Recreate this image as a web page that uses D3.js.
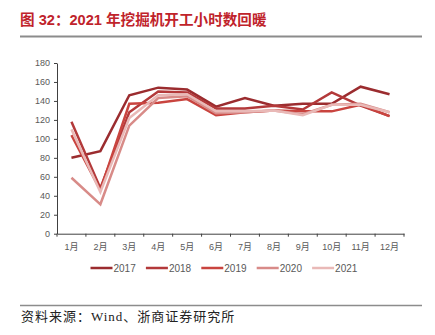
<!DOCTYPE html>
<html>
<head>
<meta charset="utf-8">
<script src="https://cdn.jsdelivr.net/npm/d3@7"></script>
<style>
  html, body { margin: 0; padding: 0; background: #ffffff; }
  svg { display: block; }
</style>
</head>
<body>
<svg id="chart" width="435" height="335"></svg>
<script>
// Excavator operating hours per month, 2017–2021
const months = ["1月","2月","3月","4月","5月","6月","7月","8月","9月","10月","11月","12月"];
const seriesNames = ["2017","2018","2019","2020","2021"];
const hours2017 = [80, 87, 146, 154, 152, 134, 143, 135, 137, 137, 155, 147];
const hours2018 = [118, 48, 128, 150, 149, 132, 132, 135, 131, 149, 135, 124];
const hours2019 = [104, 46, 137, 138, 142, 125, 128, 130, 129, 129, 136, 124];
const hours2020 = [59, 31, 114, 143, 145, 127, 128, 130, 126, 136, 137, 128];
const hours2021 = [110, 44, 122, 146, 147, 129, 129, 130, 125, 136, 136, 128];
const yTicks = [0, 20, 40, 60, 80, 100, 120, 140, 160, 180];

const seriesValues = [hours2017, hours2018, hours2019, hours2020, hours2021];
const colors = ["#9b2c2f", "#b3393a", "#c9443f", "#d88b88", "#e9b9b7"];

const svg = d3.select("#chart");
const font = "'Liberation Sans', Arial, 'Noto Sans CJK SC', sans-serif";

// Title and rules
svg.append("text")
  .attr("x", 20).attr("y", 25)
  .attr("font-family", "'Liberation Sans', Arial, 'Noto Sans CJK SC', sans-serif")
  .attr("font-size", 14.6).attr("font-weight", "bold")
  .attr("fill", "#c0232b")
  .text("图 32：2021 年挖掘机开工小时数回暖");
svg.append("line")
  .attr("x1", 20).attr("x2", 422).attr("y1", 36.5).attr("y2", 36.5)
  .attr("stroke", "#8c8c8c").attr("stroke-width", 2);
svg.append("line")
  .attr("x1", 20).attr("x2", 422).attr("y1", 305.5).attr("y2", 305.5)
  .attr("stroke", "#8c8c8c").attr("stroke-width", 1.5);
svg.append("text")
  .attr("x", 21).attr("y", 321)
  .attr("font-family", "'Liberation Serif', 'Times New Roman', 'Noto Sans CJK SC', serif")
  .attr("font-size", 13).attr("letter-spacing", 1).attr("fill", "#222")
  .text("资料来源：Wind、浙商证券研究所");

// Scales
const x = d3.scaleBand().domain(months).range([57, 404]);
const y = d3.scaleLinear().domain([0, 180]).range([233.7, 63]);
const cx = m => x(m) + x.bandwidth() / 2;

// Y axis
const yAxis = svg.append("g")
  .attr("transform", "translate(57,0)")
  .call(d3.axisLeft(y).tickValues(yTicks).tickSize(3).tickSizeOuter(0).tickPadding(4));
yAxis.select(".domain").attr("stroke", "#404040");
yAxis.selectAll(".tick line").attr("stroke", "#404040");
yAxis.selectAll("text").attr("font-family", font).attr("font-size", 9).attr("fill", "#595959");

// X axis: labels centred in bands, tick marks on band edges
const xAxis = svg.append("g")
  .attr("transform", `translate(0,${y(0)})`)
  .call(d3.axisBottom(x).tickSize(0).tickPadding(10));
xAxis.select(".domain").attr("stroke", "#404040");
xAxis.selectAll("text").attr("font-family", font).attr("font-size", 9).attr("fill", "#595959");
const edges = months.map(m => x(m)).concat([x.range()[1]]);
svg.append("g").selectAll("line").data(edges).join("line")
  .attr("x1", d => d).attr("x2", d => d)
  .attr("y1", y(0)).attr("y2", y(0) + 3)
  .attr("stroke", "#404040");

// Lines
const line = d3.line().x((d, i) => cx(months[i])).y(d => y(d));
svg.append("g").selectAll("path").data(seriesValues).join("path")
  .attr("d", d => line(d))
  .attr("fill", "none")
  .attr("stroke", (d, i) => colors[i])
  .attr("stroke-width", 2.5)
  .attr("stroke-linejoin", "miter");

// Legend
const legend = svg.append("g").selectAll("g").data(seriesNames).join("g")
  .attr("transform", (d, i) => `translate(${90.5 + i * 55.4},268)`);
legend.append("line")
  .attr("x1", 0).attr("x2", 22).attr("y1", 0).attr("y2", 0)
  .attr("stroke", (d, i) => colors[i]).attr("stroke-width", 2.5);
legend.append("text")
  .attr("x", 23).attr("y", 3.5)
  .attr("font-family", font).attr("font-size", 10).attr("fill", "#595959")
  .text(d => d);
</script>
</body>
</html>
